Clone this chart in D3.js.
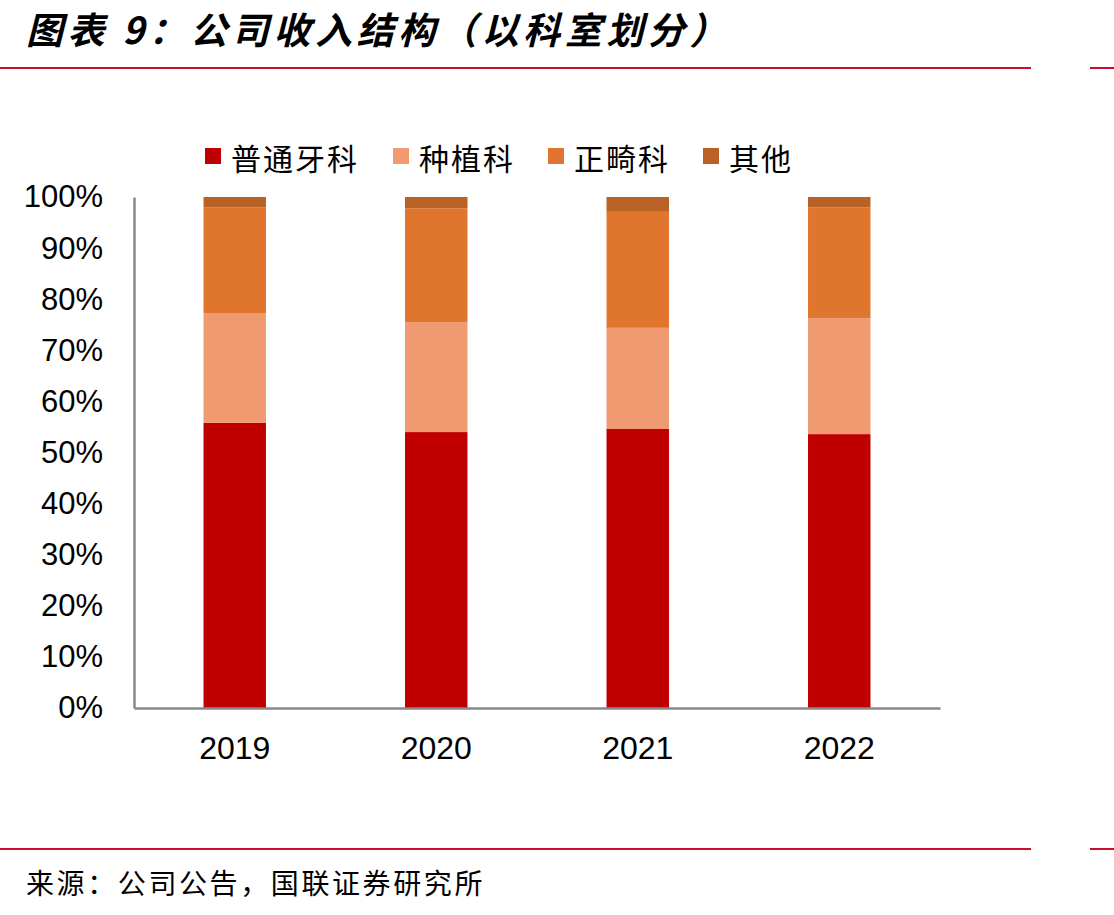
<!DOCTYPE html>
<html>
<head>
<meta charset="utf-8">
<script src="https://cdn.jsdelivr.net/npm/d3@7"></script>
<style>
  body { margin: 0; background: #fff; }
  svg { display: block; }
</style>
</head>
<body>
<svg class="svg"></svg>
<script>
// data
const years = ["2019", "2020", "2021", "2022"];
const seriesNames = ["普通牙科", "种植科", "正畸科", "其他"];
const general = [55.8, 54.0, 54.6, 53.6];
const implant = [21.5, 21.5, 19.8, 22.7];
const ortho = [20.7, 22.3, 22.7, 21.7];
const others = [2.0, 2.2, 2.9, 2.0];
const yTicks = [0, 10, 20, 30, 40, 50, 60, 70, 80, 90, 100];

const colors = ["#C00000", "#F09A72", "#E0752D", "#BA6125"];

const width = 1114, height = 915;
const svg = d3.select(".svg").attr("width", width).attr("height", height);

const cjk = "'Noto Sans CJK SC', 'Noto Sans', sans-serif";
const latin = "'Liberation Sans', Arial, sans-serif";

// title + rules
svg.append("text")
  .attr("x", 26).attr("y", 44)
  .attr("font-family", cjk).attr("font-size", 37).attr("font-weight", "bold")
  .attr("font-style", "italic").attr("letter-spacing", 4.6)
  .text("图表 9：公司收入结构（以科室划分）");

function rule(y) {
  svg.append("line").attr("x1", 0).attr("x2", 1031).attr("y1", y).attr("y2", y)
    .attr("stroke", "#C8102E").attr("stroke-width", 2);
  svg.append("line").attr("x1", 1090).attr("x2", 1114).attr("y1", y).attr("y2", y)
    .attr("stroke", "#C8102E").attr("stroke-width", 2);
}
rule(68);
rule(849);

svg.append("text")
  .attr("x", 26).attr("y", 894)
  .attr("font-family", cjk).attr("font-size", 28).attr("letter-spacing", 2.6)
  .text("来源：公司公告，国联证券研究所");

// scales
const x = d3.scaleBand().domain(years).range([134, 940]).paddingInner(0.69).paddingOuter(0.345);
const y = d3.scaleLinear().domain([0, 100]).range([708, 197]);

const table = years.map((yr, i) => ({
  year: yr, "普通牙科": general[i], "种植科": implant[i], "正畸科": ortho[i], "其他": others[i]
}));
const stacked = d3.stack().keys(seriesNames)(table);

const g = svg.append("g");
g.selectAll("g.layer")
  .data(stacked)
  .join("g")
  .attr("class", "layer")
  .attr("fill", (d, i) => colors[i])
  .selectAll("rect")
  .data(d => d)
  .join("rect")
  .attr("x", d => x(d.data.year))
  .attr("width", x.bandwidth())
  .attr("y", d => y(d[1]))
  .attr("height", d => y(d[0]) - y(d[1]));

// axes
const yAxis = svg.append("g").attr("transform", "translate(134,0)")
  .call(d3.axisLeft(y).tickValues(yTicks).tickFormat(d => d + "%").tickSize(0).tickPadding(31));
yAxis.select(".domain").attr("stroke", "#898989").attr("stroke-width", 2.5);
yAxis.selectAll("text").attr("font-family", latin).attr("font-size", 31).attr("fill", "#000");

const xAxis = svg.append("g").attr("transform", "translate(0,708)")
  .call(d3.axisBottom(x).tickSize(0).tickPadding(28));
xAxis.select(".domain").attr("stroke", "#898989").attr("stroke-width", 2.5);
xAxis.selectAll("text").attr("font-family", latin).attr("font-size", 32).attr("fill", "#000");

// legend
const legendX = [205, 393, 548, 703];
const legend = svg.append("g").selectAll("g")
  .data(seriesNames)
  .join("g")
  .attr("transform", (d, i) => `translate(${legendX[i]},148)`);
legend.append("rect").attr("width", 16).attr("height", 16).attr("fill", (d, i) => colors[i]);
legend.append("text")
  .attr("x", 26).attr("y", 22)
  .attr("font-family", cjk).attr("font-size", 30).attr("letter-spacing", 2)
  .text(d => d);
</script>
</body>
</html>
